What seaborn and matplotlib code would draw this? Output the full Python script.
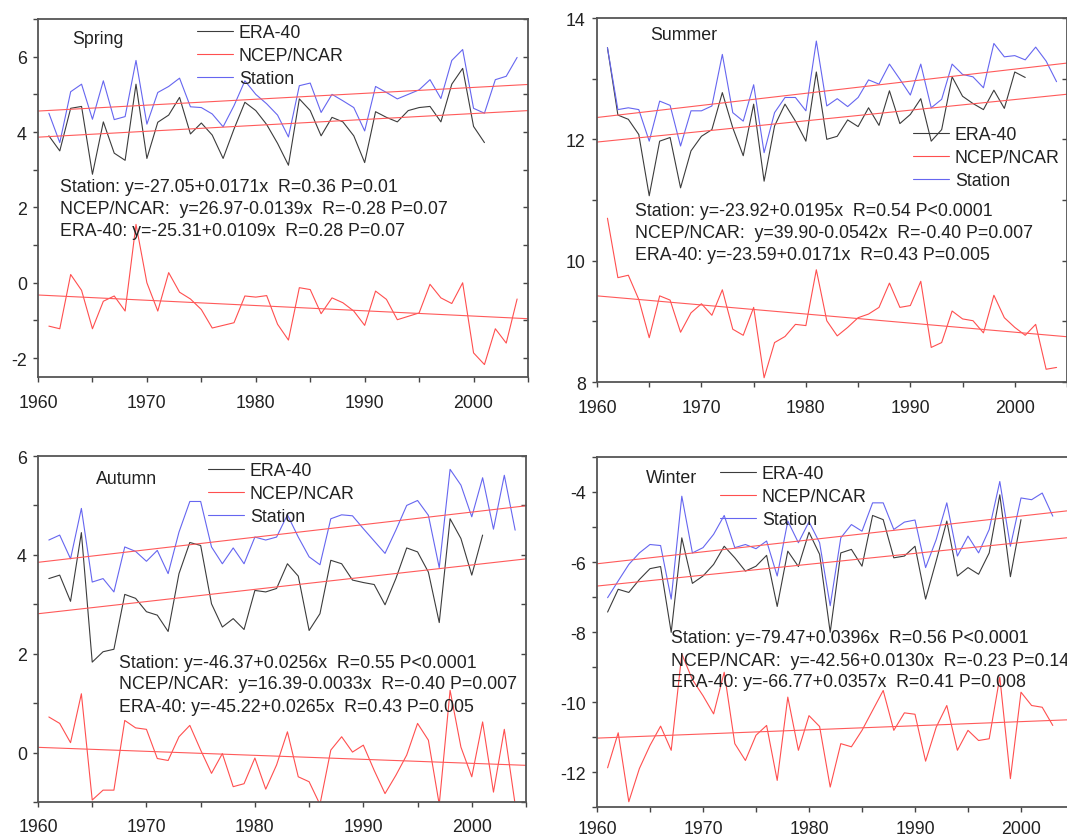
import numpy as np
import pandas as pd
import matplotlib.pyplot as plt
from matplotlib.ticker import MultipleLocator
import seaborn as sns

W, H = 1067, 837

# values (one value per year, starting 1961)
spring_station = [4.5, 3.72, 5.07, 5.27, 4.34, 5.36, 4.33, 4.41, 5.9, 4.21,
                  5.05, 5.21, 5.43, 4.67, 4.65, 4.48, 4.14, 4.7, 5.36, 5.0,
                  4.75, 4.45, 3.87, 5.23, 5.3, 4.52, 5.0, 4.83, 4.65, 4.03,
                  5.21, 5.05, 4.88, 5.0, 5.12, 5.39, 4.89, 5.9, 6.19, 4.63,
                  4.5, 5.39, 5.48, 5.98]
spring_era = [3.9, 3.5, 4.63, 4.68, 2.88, 4.27, 3.44, 3.25, 5.27, 3.3,
              4.26, 4.45, 4.92, 3.95, 4.24, 3.92, 3.3, 4.08, 4.79, 4.57,
              4.2, 3.7, 3.12, 4.88, 4.57, 3.9, 4.39, 4.27, 3.9, 3.19,
              4.54, 4.39, 4.27, 4.57, 4.65, 4.68, 4.27, 5.27, 5.69, 4.15,
              3.72]
spring_ncep = [-1.15, -1.22, 0.22, -0.2, -1.22, -0.49, -0.35, -0.75, 1.55, 0.0,
               -0.75, 0.27, -0.25, -0.43, -0.71, -1.2, -1.13, -1.06, -0.35, -0.38,
               -0.34, -1.1, -1.52, -0.13, -0.18, -0.82, -0.4, -0.53, -0.75, -1.13,
               -0.22, -0.44, -0.98, -0.89, -0.8, -0.04, -0.4, -0.55, 0.0, -1.86,
               -2.17, -1.22, -1.6, -0.43]

summer_station = [13.51, 12.49, 12.52, 12.49, 11.97, 12.63, 12.56, 11.89, 12.47, 12.47,
                  12.55, 13.4, 12.44, 12.3, 12.9, 11.78, 12.44, 12.69, 12.69, 12.47,
                  13.62, 12.55, 12.67, 12.54, 12.69, 12.98, 12.91, 13.24, 12.99, 12.73,
                  13.24, 12.52, 12.66, 13.24, 13.07, 13.03, 12.85, 13.58, 13.36, 13.38,
                  13.31, 13.52, 13.29, 12.95]
summer_era = [13.51, 12.4, 12.33, 12.08, 11.07, 11.97, 12.03, 11.2, 11.81, 12.05,
              12.16, 12.77, 12.19, 11.73, 12.58, 11.31, 12.22, 12.58, 12.3, 11.97,
              13.11, 12.0, 12.05, 12.32, 12.21, 12.52, 12.23, 12.8, 12.26, 12.41,
              12.67, 11.97, 12.16, 13.03, 12.71, 12.59, 12.49, 12.81, 12.51, 13.11,
              13.02]
summer_ncep = [10.7, 9.72, 9.76, 9.36, 8.73, 9.42, 9.35, 8.82, 9.14, 9.29,
               9.1, 9.52, 8.87, 8.77, 9.23, 8.07, 8.65, 8.75, 8.95, 8.93,
               9.85, 9.01, 8.76, 8.9, 9.06, 9.12, 9.23, 9.63, 9.23, 9.26,
               9.66, 8.57, 8.65, 9.17, 9.04, 9.01, 8.81, 9.43, 9.06, 8.9,
               8.77, 8.95, 8.21, 8.24]

autumn_station = [4.3, 4.4, 3.92, 4.94, 3.45, 3.52, 3.25, 4.16, 4.07, 3.87,
                  4.09, 3.62, 4.46, 5.08, 5.08, 4.16, 3.82, 4.14, 3.82, 4.36,
                  4.3, 4.36, 4.81, 4.36, 3.96, 3.8, 4.73, 4.81, 4.79, 4.53,
                  4.28, 4.03, 4.5, 5.0, 5.1, 4.8, 3.74, 5.73, 5.41, 4.77,
                  5.56, 4.52, 5.61, 4.5]
autumn_era = [3.52, 3.59, 3.06, 4.45, 1.83, 2.04, 2.09, 3.2, 3.12, 2.85,
              2.78, 2.45, 3.62, 4.25, 4.19, 3.01, 2.54, 2.71, 2.49, 3.28,
              3.25, 3.32, 3.82, 3.57, 2.47, 2.81, 3.89, 3.82, 3.49, 3.44,
              3.4, 2.99, 3.52, 4.14, 4.06, 3.65, 2.63, 4.73, 4.33, 3.59,
              4.4]
autumn_ncep = [0.72, 0.59, 0.2, 1.19, -0.96, -0.76, -0.76, 0.65, 0.5, 0.47,
               -0.12, -0.16, 0.32, 0.55, 0.05, -0.42, -0.02, -0.69, -0.63, -0.11,
               -0.74, -0.25, 0.42, -0.49, -0.59, -1.05, 0.05, 0.32, 0.01, 0.15,
               -0.36, -0.83, -0.46, -0.05, 0.59, 0.25, -1.05, 1.26, 0.11, -0.49,
               0.62, -0.8, 0.47, -1.05]

winter_station = [-7.02, -6.54, -6.07, -5.74, -5.5, -5.53, -7.06, -4.12, -5.74, -5.59,
                  -5.21, -4.67, -5.59, -5.5, -5.62, -5.4, -6.4, -4.83, -5.45, -4.85,
                  -5.45, -7.25, -5.31, -4.93, -5.12, -4.31, -4.31, -5.07, -4.86, -4.8,
                  -6.16, -5.36, -4.31, -5.83, -5.26, -5.74, -5.07, -3.7, -5.55, -4.17,
                  -4.22, -4.03, -4.69]
winter_era = [-7.43, -6.78, -6.87, -6.5, -6.19, -6.13, -8.01, -5.31, -6.61, -6.4,
              -6.07, -5.55, -5.88, -6.26, -6.12, -5.81, -7.27, -5.69, -6.13, -5.15,
              -5.78, -8.01, -5.74, -5.64, -6.12, -4.67, -4.79, -5.88, -5.83, -5.55,
              -7.06, -5.97, -4.83, -6.4, -6.16, -6.35, -5.74, -4.08, -6.42, -4.79]
winter_ncep = [-11.88, -10.88, -12.85, -11.9, -11.24, -10.69, -11.38, -8.63, -9.36, -9.82,
               -10.34, -9.15, -11.19, -11.67, -10.95, -10.67, -12.24, -9.86, -11.38, -10.39,
               -10.7, -12.43, -11.19, -11.28, -10.81, -10.24, -9.67, -10.81, -10.31, -10.35,
               -11.69, -10.72, -10.1, -11.38, -10.81, -11.1, -11.05, -9.29, -12.19, -9.72,
               -10.1, -10.15, -10.67]

spring_eq = ["Station: y=-27.05+0.0171x  R=0.36 P=0.01",
             "NCEP/NCAR:  y=26.97-0.0139x  R=-0.28 P=0.07",
             "ERA-40: y=-25.31+0.0109x  R=0.28 P=0.07"]
summer_eq = ["Station: y=-23.92+0.0195x  R=0.54 P<0.0001",
             "NCEP/NCAR:  y=39.90-0.0542x  R=-0.40 P=0.007",
             "ERA-40: y=-23.59+0.0171x  R=0.43 P=0.005"]
autumn_eq = ["Station: y=-46.37+0.0256x  R=0.55 P<0.0001",
             "NCEP/NCAR:  y=16.39-0.0033x  R=-0.40 P=0.007",
             "ERA-40: y=-45.22+0.0265x  R=0.43 P=0.005"]
winter_eq = ["Station: y=-79.47+0.0396x  R=0.56 P<0.0001",
             "NCEP/NCAR:  y=-42.56+0.0130x  R=-0.23 P=0.14",
             "ERA-40: y=-66.77+0.0357x  R=0.41 P=0.008"]

series_names = ['ERA-40', 'NCEP/NCAR', 'Station']
colors = {'ERA-40': '#3c3c3c', 'NCEP/NCAR': '#ff4f4f', 'Station': '#6666f0'}
trend_color = '#ff5a5a'
ink = '#222222'

sns.set_style('ticks')
plt.rcParams['font.family'] = ['Liberation Sans', 'DejaVu Sans']
plt.rcParams['axes.unicode_minus'] = False
FS = 12.8

fig = plt.figure(figsize=(W / 100, H / 100), dpi=100)
fig.patch.set_facecolor('white')


def fx(x):
    return x / W


def fy(y):
    return 1 - y / H


# name, data, equations, axes box (l, t, r, b px), ylim, x label pad,
# label xy, legend xy, eq xy
panels = [
    ('Spring', (spring_era, spring_ncep, spring_station), spring_eq,
     (38, 20, 528, 378), (-2.5, 7), 8.4, (72, 40), (197, 25), (60, 188)),
    ('Summer', (summer_era, summer_ncep, summer_station), summer_eq,
     (597, 19, 1067, 383), (8, 14), 8.4, (650, 35), (913, 127), (635, 212)),
    ('Autumn', (autumn_era, autumn_ncep, autumn_station), autumn_eq,
     (38, 457, 526, 803), (-1, 6), 7.6, (96, 480), (208, 463), (119, 663)),
    ('Winter', (winter_era, winter_ncep, winter_station), winter_eq,
     (597, 458, 1074, 808), (-13, -3), 5.6, (646, 479), (720, 466), (671, 639)),
]

for name, data, eqs, box, ylim, xpad, lab, leg, eqxy in panels:
    l, t, r, b = box
    ax = fig.add_axes([fx(l), fy(b), (r - l) / W, (b - t) / H])
    ax.set_xlim(1960, 2005)
    for sname, vals in zip(series_names, data):
        df = pd.DataFrame({'year': np.arange(1961, 1961 + len(vals)), 'value': vals})
        sns.lineplot(data=df, x='year', y='value', ax=ax, color=colors[sname],
                     linewidth=0.8, label=sname, legend=False)
    # least-squares trend of each series, drawn across the whole x range
    for sname, vals in zip(series_names, data):
        df = pd.DataFrame({'year': np.arange(1961, 1961 + len(vals)), 'value': vals})
        sns.regplot(data=df, x='year', y='value', ax=ax, scatter=False, ci=None,
                    truncate=False, color=trend_color, line_kws={'linewidth': 0.8})
    ax.set_xlim(1960, 2005)
    ax.set_ylim(*ylim)
    ax.set_xlabel('')
    ax.set_ylabel('')
    ax.xaxis.set_major_locator(MultipleLocator(10))
    ax.xaxis.set_minor_locator(MultipleLocator(5))
    ax.yaxis.set_major_locator(MultipleLocator(2))
    ax.yaxis.set_minor_locator(MultipleLocator(1))
    ax.tick_params(which='both', direction='out', length=3.6, width=1.0, color='#444444',
                   labelsize=FS, labelcolor=ink, top=False, right=False)
    ax.tick_params(axis='x', which='both', pad=xpad)
    ax.tick_params(axis='y', which='both', pad=4.5)
    for sp in ax.spines.values():
        sp.set_linewidth(1.3)
        sp.set_color('#555555')

    sec = ax.secondary_yaxis('right')
    sec.yaxis.set_major_locator(MultipleLocator(2))
    sec.yaxis.set_minor_locator(MultipleLocator(1))
    sec.tick_params(which='both', direction='in', length=3.6, width=1.0, color='#444444',
                    labelright=False)
    sec.spines['right'].set_visible(False)

    fig.text(fx(lab[0]), fy(lab[1]), name, fontsize=FS, color=ink, va='center', ha='left')
    for i, line in enumerate(eqs):
        fig.text(fx(eqxy[0]), fy(eqxy[1] + 22 * i), line, fontsize=FS, color=ink,
                 va='center', ha='left')

    handles, labels = ax.get_legend_handles_labels()
    ax.legend(handles[:3], labels[:3], loc='upper left',
              bbox_to_anchor=(fx(leg[0]), fy(leg[1])), bbox_transform=fig.transFigure,
              frameon=False, fontsize=FS, handlelength=2.05, handletextpad=0.3,
              labelspacing=0.33, borderpad=0, borderaxespad=0, labelcolor=ink)

fig.savefig('out.png', dpi=100, facecolor='white')
